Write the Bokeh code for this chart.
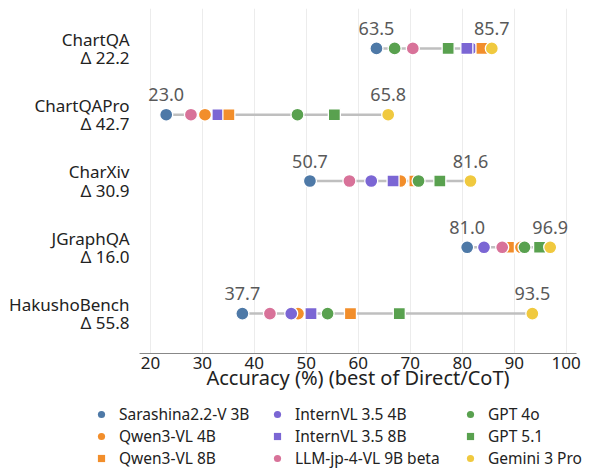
from bokeh.plotting import figure
from bokeh.layouts import column, row
from bokeh.models import Legend, LegendItem, FixedTicker, Range1d, ColumnDataSource
from bokeh.core.properties import value
from bokeh.embed import file_html
from bokeh.resources import INLINE

FONT = "Noto Sans"

benchmarks = ["ChartQA", "ChartQAPro", "CharXiv", "JGraphQA", "HakushoBench"]
row_pos = [4, 3, 2, 1, 0]

sarashina_3b = [63.5, 23.04, 50.7, 80.96, 37.7]
qwen_4b = [84.4, 30.5, 68.1, 91.3, 48.4]
qwen_8b = [83.8, 35.1, 70.9, 88.9, 58.5]
internvl_4b = [81.7, 33.5, 62.5, 84.2, 47.1]
internvl_8b = [80.9, 33.0, 66.7, 88.5, 50.9]
llmjp_9b = [70.5, 27.8, 58.3, 87.7, 43.0]
gpt_4o = [67.0, 48.3, 71.6, 92.0, 54.1]
gpt_51 = [77.3, 55.4, 75.7, 94.9, 67.9]
gemini_3 = [85.7, 65.76, 81.6, 96.94, 93.5]

x_ticks = [20, 30, 40, 50, 60, 70, 80, 90, 100]

# (label, values, color, marker) in drawing order
models = [
    ("Sarashina2.2-V 3B", sarashina_3b, "#4e79a7", "circle"),
    ("Qwen3-VL 4B", qwen_4b, "#f28e2b", "circle"),
    ("InternVL 3.5 4B", internvl_4b, "#7b66d4", "circle"),
    ("InternVL 3.5 8B", internvl_8b, "#7b66d4", "square"),
    ("Qwen3-VL 8B", qwen_8b, "#f28e2b", "square"),
    ("LLM-jp-4-VL 9B beta", llmjp_9b, "#d87299", "circle"),
    ("GPT 4o", gpt_4o, "#59a14f", "circle"),
    ("GPT 5.1", gpt_51, "#59a14f", "square"),
    ("Gemini 3 Pro", gemini_3, "#f0c93f", "circle"),
]
legend_columns = [
    ["Sarashina2.2-V 3B", "Qwen3-VL 4B", "Qwen3-VL 8B"],
    ["InternVL 3.5 4B", "InternVL 3.5 8B", "LLM-jp-4-VL 9B beta"],
    ["GPT 4o", "GPT 5.1", "Gemini 3 Pro"],
]

p = figure(width=589, height=398, output_backend="svg", toolbar_location=None,
           x_range=Range1d(17.9, 102.0), y_range=Range1d(-0.603, 4.603),
           min_border_left=139, min_border_right=13, min_border_top=8, min_border_bottom=45)
p.outline_line_color = None
p.background_fill_color = "white"
p.border_fill_color = "white"

mins, maxs = [], []
for i in range(len(benchmarks)):
    vals = [m[1][i] for m in models]
    mins.append(min(vals))
    maxs.append(max(vals))

p.segment(x0=mins, x1=maxs, y0=row_pos, y1=row_pos, line_color="#bfbfbf", line_width=2.5)

for name, vals, color, marker in models:
    size = 13 if marker == "circle" else 12
    p.scatter(x=vals, y=row_pos, marker=marker, size=size,
              fill_color=color, line_color="white", line_width=1.3)

labels_src = ColumnDataSource(dict(
    x=mins + maxs, y=row_pos + row_pos,
    t=["%.1f" % v for v in mins] + ["%.1f" % v for v in maxs]))
p.text(x="x", y="y", text="t", source=labels_src, text_align="center",
       text_baseline="alphabetic", y_offset=-20, text_font=value(FONT),
       text_font_size="18px", text_color="#595959")

p.xaxis.ticker = FixedTicker(ticks=x_ticks)
p.xaxis.axis_label = "Accuracy (%) (best of Direct/CoT)"
p.xaxis.axis_label_text_font = FONT
p.xaxis.axis_label_text_font_size = "20px"
p.xaxis.axis_label_text_font_style = "normal"
p.xaxis.axis_label_text_color = "#222222"
p.xaxis.axis_label_standoff = -8
p.xaxis.major_label_text_font = FONT
p.xaxis.major_label_text_font_size = "17px"
p.xaxis.major_label_text_color = "#222222"
p.xaxis.major_label_standoff = 3
p.xaxis.major_tick_out = 0
p.xaxis.major_tick_in = 0
p.xaxis.minor_tick_out = 0
p.xaxis.minor_tick_in = 0
p.xaxis.axis_line_color = "#888888"

p.yaxis.ticker = FixedTicker(ticks=row_pos)
p.yaxis.major_label_overrides = {
    row_pos[i]: "%s\nΔ %.1f" % (benchmarks[i], maxs[i] - mins[i]) for i in range(len(benchmarks))
}
p.yaxis.major_label_text_font = FONT
p.yaxis.major_label_text_font_size = "17px"
p.yaxis.major_label_text_line_height = 0.8
p.yaxis.major_label_text_color = "#222222"
p.yaxis.major_label_standoff = 4
p.yaxis.axis_line_color = None
p.yaxis.major_tick_line_color = None
p.yaxis.minor_tick_line_color = None

p.xgrid.grid_line_color = "#ececec"
p.xgrid.grid_line_width = 1
p.ygrid.grid_line_color = None

# legend panel (a second figure whose frame covers the legend area; points out of view)
pl = figure(width=589, height=72, output_backend="svg", toolbar_location=None,
            x_range=Range1d(17.9, 102.0), y_range=Range1d(10, 11),
            x_axis_location=None, y_axis_location=None,
            min_border_left=0, min_border_right=0, min_border_top=0, min_border_bottom=0)
pl.outline_line_color = None
pl.xgrid.grid_line_color = None
pl.ygrid.grid_line_color = None

leg_renderers = {}
for name, vals, color, marker in models:
    leg_renderers[name] = pl.scatter(x=vals, y=row_pos, marker=marker, fill_color=color,
                                     line_color=None)

col_x = [91, 267, 460]
for cx, col in zip(col_x, legend_columns):
    items = [LegendItem(label=n, renderers=[leg_renderers[n]]) for n in col]
    lg = Legend(items=items, location=(cx, 1), orientation="vertical",
                label_text_font=FONT, label_text_font_size="15.5px",
                label_text_color="#222222", glyph_width=20, glyph_height=18,
                label_height=18, label_standoff=8, spacing=-3, padding=0, margin=0,
                border_line_color=None, background_fill_alpha=0)
    pl.add_layout(lg, "center")

layout = column(p, row(pl), spacing=0)
open("out.html", "w").write(file_html(layout, INLINE))
